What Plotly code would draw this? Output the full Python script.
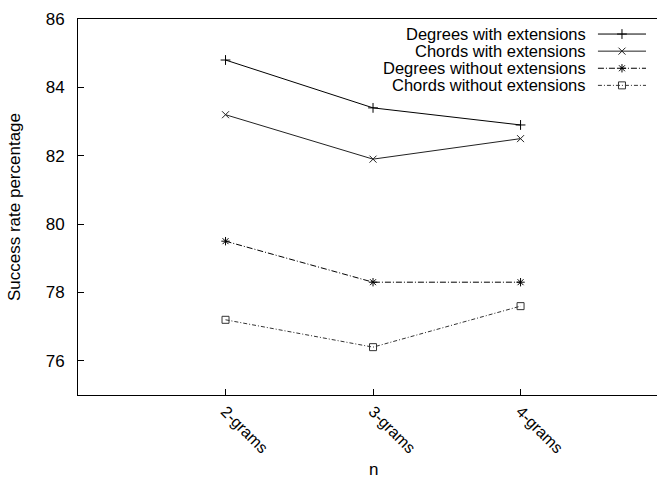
import plotly.graph_objects as go

# ---- data ----
categories = ["2-grams", "3-grams", "4-grams"]
degrees_with_ext = [84.8, 83.4, 82.9]
chords_with_ext = [83.2, 81.9, 82.5]
degrees_without_ext = [79.5, 78.3, 78.3]
chords_without_ext = [77.2, 76.4, 77.6]
series_names = ["Degrees with extensions", "Chords with extensions",
                "Degrees without extensions", "Chords without extensions"]
y_ticks = [76, 78, 80, 82, 84, 86]

# ---- styles / layout constants ----
FONT = "Liberation Sans, Arial, Helvetica, sans-serif"
X_RANGE = [1, 4.925]
Y_RANGE = [75, 86]
styles = [
    dict(dash="solid", symbol="cross-thin-open", color="black"),
    dict(dash="solid", symbol="x-thin-open", color="#222222"),
    dict(dash="6px,2px,1px,2px", symbol="asterisk-open", color="black"),
    dict(dash="4px,2px,1px,2px", symbol="square-open", color="#333333"),
]
series_values = [degrees_with_ext, chords_with_ext, degrees_without_ext, chords_without_ext]
xs = [i + 2 for i in range(len(categories))]

fig = go.Figure()
for name, vals, st in zip(series_names, series_values, styles):
    fig.add_trace(go.Scatter(
        x=xs, y=vals, mode="lines+markers", name=name, showlegend=False,
        line=dict(color=st["color"], width=1, dash=st["dash"]),
        marker=dict(symbol=st["symbol"], size=7, color=st["color"],
                    line=dict(width=1, color=st["color"])),
    ))

# ---- custom gnuplot-style key (text right-aligned, sample to its right) ----
def fx(frac):
    return X_RANGE[0] + frac * (X_RANGE[1] - X_RANGE[0])

def fy(frac):
    return Y_RANGE[0] + frac * (Y_RANGE[1] - Y_RANGE[0])

key_text_x = 0.880
key_x0, key_x1, key_xm = 0.898, 0.981, 0.9395
key_y0, key_dy = 0.960, 0.0455
annotations = []
for i, (name, st) in enumerate(zip(series_names, styles)):
    ky = key_y0 - i * key_dy
    annotations.append(dict(x=key_text_x, y=ky, xref="paper", yref="paper",
                            text=name, showarrow=False, xanchor="right",
                            yanchor="middle", font=dict(family=FONT, size=16.5, color="black")))
    fig.add_trace(go.Scatter(
        x=[fx(key_x0), fx(key_x1)], y=[fy(ky)] * 2,
        mode="lines", showlegend=False, hoverinfo="skip",
        line=dict(color=st["color"], width=1, dash=st["dash"]),
    ))
    fig.add_trace(go.Scatter(
        x=[fx(key_xm)], y=[fy(ky)],
        mode="markers", showlegend=False, hoverinfo="skip",
        marker=dict(symbol=st["symbol"], size=7, color=st["color"],
                    line=dict(width=1, color=st["color"])),
    ))

# x-axis title "n", kept fully inside the figure
annotations.append(dict(x=3, y=0, xref="x", yref="paper", yshift=-86,
                        text="n", showarrow=False, xanchor="center", yanchor="bottom",
                        font=dict(family=FONT, size=17, color="black")))

fig.update_layout(
    width=657, height=481,
    margin=dict(l=78, r=0, t=19, b=86, autoexpand=False),
    paper_bgcolor="white", plot_bgcolor="white",
    font=dict(family=FONT, size=17, color="black"),
    showlegend=False,
    hovermode=False,
    annotations=annotations,
    xaxis=dict(range=X_RANGE, tickmode="array", tickvals=xs, ticktext=categories,
               tickangle=45, ticks="inside", ticklen=6, tickcolor="black",
               showline=True, linecolor="black", linewidth=1, mirror=True,
               showgrid=False, zeroline=False, tickfont=dict(size=16)),
    yaxis=dict(range=Y_RANGE, tickmode="array", tickvals=y_ticks,
               ticks="inside", ticklen=6, tickcolor="black",
               showline=True, linecolor="black", linewidth=1, mirror=False,
               showgrid=False, zeroline=False, ticklabelstandoff=9,
               title=dict(text="Success rate percentage", standoff=20,
                          font=dict(size=17))),
)

fig.write_html("out.html", config={"displayModeBar": False, "staticPlot": True},
               post_script="document.body.style.margin='0';document.body.style.overflow='hidden';")
